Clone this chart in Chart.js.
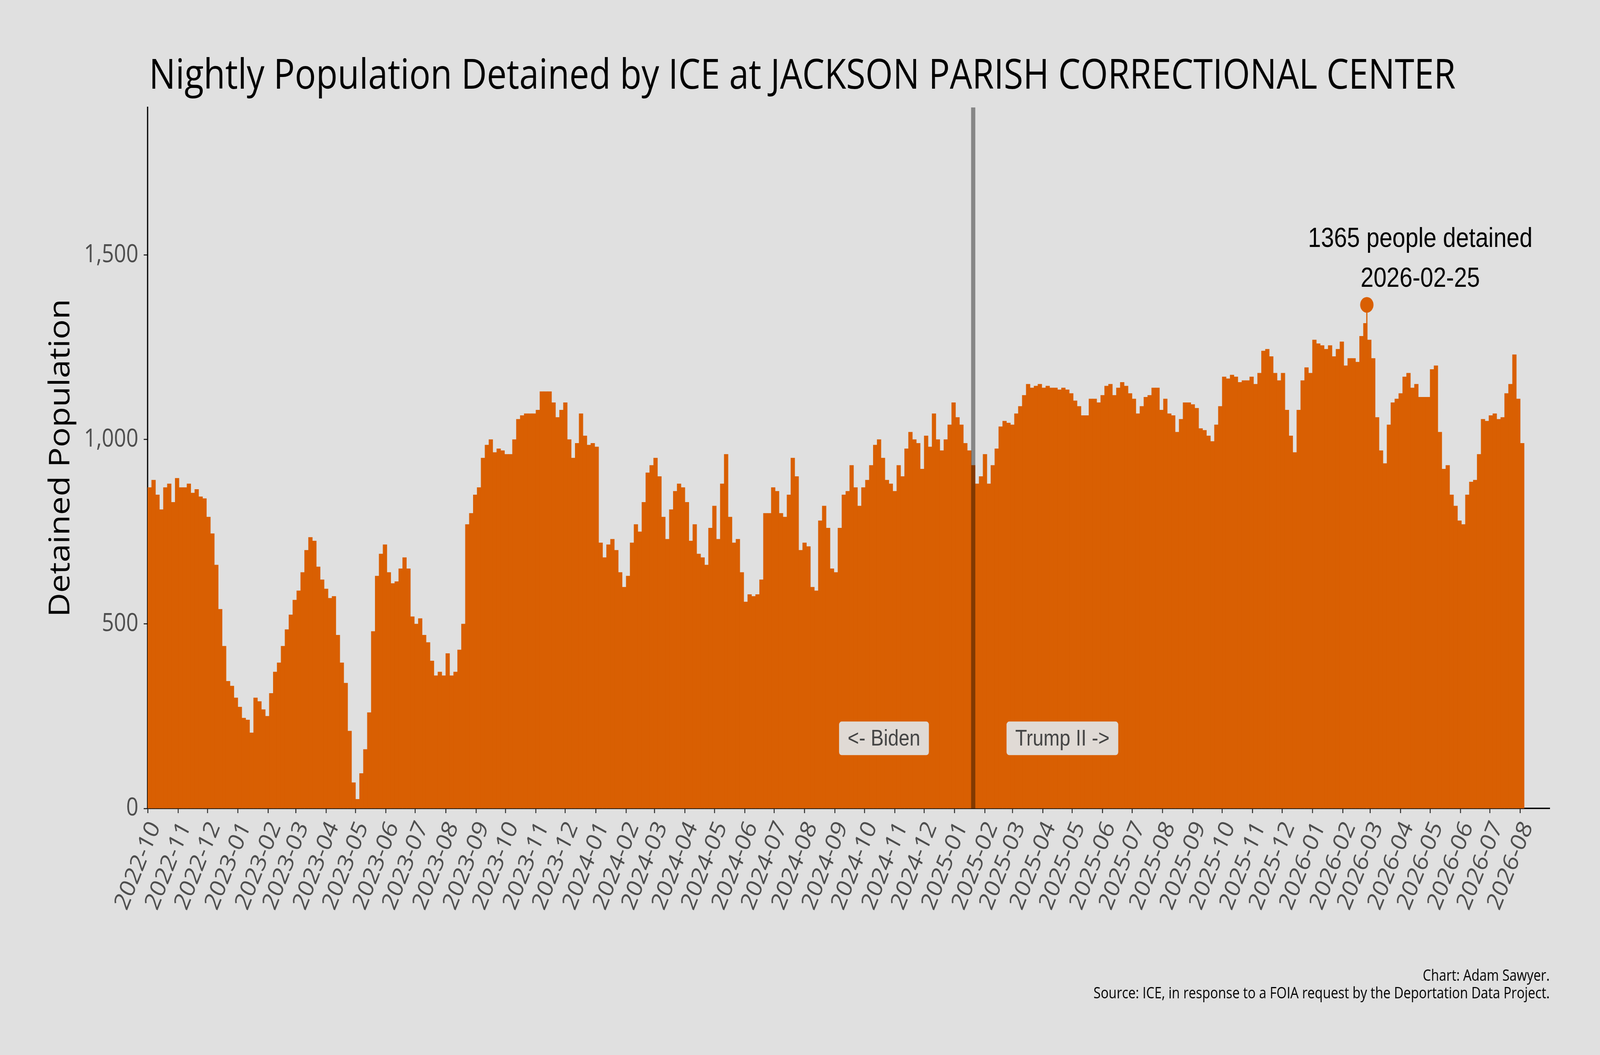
<!DOCTYPE html>
<html lang="en">
<head>
<meta charset="UTF-8">
<title>Nightly Population Detained by ICE at JACKSON PARISH CORRECTIONAL CENTER</title>
<style>
  html, body { margin: 0; padding: 0; background: #e0e0e0; overflow: hidden; }
  /* bitmap is 4800x2700; stretch it to whatever the window really is */
  canvas { display: block; width: 100vw !important; height: 100vh !important; }
</style>
</head>
<body>
<canvas id="chart" width="4800" height="2700"></canvas>
<script src="https://cdn.jsdelivr.net/npm/chart.js@4.4.1/dist/chart.umd.min.js"></script>
<script>
// nightly population, averaged into 4-day bins starting 2022-10-01
var popOct22 = [
  870, 890, 850, 810, 870, 880, 830, 895, 870, 870,
  880, 855, 865, 845, 840, 790, 745, 660, 540, 440,
  345, 332, 300, 275, 245, 240, 205, 300, 290, 268,
  250, 312, 370, 395, 440, 485, 525, 565, 590, 640,
  700, 735, 725, 655, 620, 595, 570, 575, 470, 395,
  340, 210, 70, 25, 95, 160, 260, 480, 630, 690,
  715, 640, 610, 615, 650, 680, 650, 520, 500, 515,
  470, 450, 400, 360, 370, 360, 420, 360, 370, 430,
  500, 770, 800, 850, 870, 950, 985, 1000, 965, 975,
  970
];
var popOct23 = [
  960, 960, 1000, 1055, 1065, 1070, 1070, 1070, 1080,
  1130, 1130, 1130, 1100, 1060, 1080, 1100, 1000, 950, 990,
  1070, 1010, 985, 990, 980, 720, 680, 715, 730, 700,
  640, 600, 630, 720, 770, 750, 830, 910, 930, 950,
  900, 790, 730, 810, 860, 880, 870, 830, 725, 770,
  690, 680, 660, 760, 820, 730, 880, 960, 790, 720,
  730, 640, 560, 580, 575, 580, 620, 800, 800, 870,
  860, 800, 790, 850, 950, 900, 700, 720, 710, 600,
  590, 780, 820, 760, 650, 640, 760, 850, 860, 930,
  870, 820, 870
];
var popOct24 = [
  890, 930, 985, 1000, 950, 890, 880, 860, 930, 900,
  975, 1020, 1000, 990, 920, 1010, 980, 1070, 1000, 970,
  1000, 1040, 1100, 1060, 1040, 990, 970, 930, 880, 900,
  960, 880, 930, 975, 1035, 1050, 1045, 1040, 1070, 1090,
  1120, 1150, 1140, 1145, 1150, 1140, 1145, 1140, 1140, 1135,
  1140, 1135, 1125, 1105, 1090, 1065, 1065, 1110, 1110, 1100,
  1120, 1145, 1150, 1120, 1140, 1155, 1145, 1125, 1110, 1070,
  1090, 1115, 1120, 1140, 1140, 1080, 1110, 1070, 1065, 1020,
  1055, 1100, 1100, 1095, 1085, 1030, 1025, 1010, 995, 1040,
  1090
];
var popOct25 = [
  1170, 1165, 1175, 1170, 1155, 1160, 1160, 1170, 1150, 1180,
  1240, 1245, 1225, 1180, 1160, 1180, 1080, 1010, 965, 1080,
  1160, 1195, 1180, 1270, 1260, 1255, 1245, 1255, 1225, 1245,
  1265, 1200, 1220, 1220, 1210, 1280, 1315, 1270, 1220, 1060,
  970, 935, 1040, 1100, 1110, 1125, 1170, 1180, 1140, 1150,
  1115, 1115, 1115, 1190, 1200, 1020, 920, 930, 850, 820,
  780, 770, 850, 885, 890, 960, 1055, 1050, 1065, 1070,
  1055, 1060, 1125, 1150, 1230, 1110, 990
];

var startDate = '2022-10-01';
var binDays = 4;
var monthTicks = [
  '2022-10', '2022-11', '2022-12',
  '2023-01', '2023-02', '2023-03', '2023-04', '2023-05', '2023-06',
  '2023-07', '2023-08', '2023-09', '2023-10', '2023-11', '2023-12',
  '2024-01', '2024-02', '2024-03', '2024-04', '2024-05', '2024-06',
  '2024-07', '2024-08', '2024-09', '2024-10', '2024-11', '2024-12',
  '2025-01', '2025-02', '2025-03', '2025-04', '2025-05', '2025-06',
  '2025-07', '2025-08', '2025-09', '2025-10', '2025-11', '2025-12',
  '2026-01', '2026-02', '2026-03', '2026-04', '2026-05', '2026-06',
  '2026-07', '2026-08'
];
var yTicks = [0, 500, 1000, 1500];

var peakDate = '2026-02-25';
var peakValue = 1365;
var inaugurationDate = '2025-01-20';

var ORANGE = '#d95f02';
var SANS = '"Open Sans", "Noto Sans", sans-serif';
var ARIAL = '"Liberation Sans", Arial, sans-serif';

function dayOf(s) {
  var p = s.split('-').map(Number);
  var b = startDate.split('-').map(Number);
  return (Date.UTC(p[0], p[1] - 1, p[2] || 1) - Date.UTC(b[0], b[1] - 1, b[2])) / 86400000;
}

var population = popOct22.concat(popOct23, popOct24, popOct25);
var bars = population.map(function(v, i) {
  return { x: i * binDays + binDays / 2, y: v };
});

// fit a string into a target width (the reference font is narrower than what we have)
function fitFont(ctx, text, width, family) {
  ctx.font = '100px ' + family;
  return 100 * width / ctx.measureText(text).width;
}

var overlay = {
  id: 'overlay',
  afterDatasetsDraw: function(chart) {
    var ctx = chart.ctx, a = chart.chartArea, x = chart.scales.x, y = chart.scales.y;
    ctx.save();

    // inauguration line
    var lx = x.getPixelForValue(dayOf(inaugurationDate));
    ctx.fillStyle = 'rgba(0,0,0,0.4)';
    ctx.fillRect(lx - 6.3, a.top, 12.6, a.bottom - a.top);

    // era labels
    ctx.font = '58px ' + ARIAL;
    ctx.textAlign = 'center';
    ctx.textBaseline = 'middle';
    [['<- Biden', -91], ['Trump II ->', 91]].forEach(function(l) {
      var cx = x.getPixelForValue(dayOf(inaugurationDate) + l[1]);
      var cy = y.getPixelForValue(190);
      var w = ctx.measureText(l[0]).width + 52;
      ctx.fillStyle = 'rgba(224,224,224,0.95)';
      ctx.beginPath();
      ctx.roundRect(cx - w / 2, cy - 43, w, 86, 8);
      ctx.fill();
      ctx.fillStyle = '#444';
      ctx.fillText(l[0], cx, cy + 2);
    });

    // peak annotation
    var px = x.getPixelForValue(dayOf(peakDate) + 55);
    var py = y.getPixelForValue(peakValue);
    ctx.fillStyle = '#000';
    ctx.font = '70px ' + ARIAL;
    ctx.textBaseline = 'alphabetic';
    ctx.fillText(peakValue + ' people detained', px, py - 148);
    ctx.fillText(peakDate, px, py - 46);
    ctx.restore();
  },
  afterDraw: function(chart) {
    var ctx = chart.ctx, a = chart.chartArea;
    ctx.save();
    ctx.fillStyle = '#000';

    var title = 'Nightly Population Detained by ICE at JACKSON PARISH CORRECTIONAL CENTER';
    ctx.font = fitFont(ctx, title, 3920, SANS) + 'px ' + SANS;
    ctx.textAlign = 'left';
    ctx.textBaseline = 'alphabetic';
    ctx.fillText(title, 447, 227);

    var yTitle = 'Detained Population';
    ctx.font = fitFont(ctx, yTitle, 814, SANS) + 'px ' + SANS;
    ctx.translate(208, (a.top + a.bottom) / 2);
    ctx.rotate(-Math.PI / 2);
    ctx.textAlign = 'center';
    ctx.fillText(yTitle, 0, 0);
    ctx.setTransform(1, 0, 0, 1, 0, 0);

    var src = 'Source: ICE, in response to a FOIA request by the Deportation Data Project.';
    ctx.font = fitFont(ctx, src, 1369, SANS) + 'px ' + SANS;
    ctx.textAlign = 'right';
    ctx.fillText('Chart: Adam Sawyer.', 4649, 2510);
    ctx.fillText(src, 4649, 2555);
    ctx.restore();
  }
};

var axisGrid = {
  display: true, drawOnChartArea: false, drawTicks: true, offset: false,
  tickLength: 12, tickWidth: 3, tickColor: '#333'
};
var axisBorder = { display: true, color: '#000', width: 3.5 };

new Chart(document.getElementById('chart'), {
  type: 'bar',
  data: {
    datasets: [{
      type: 'bar',
      data: bars,
      backgroundColor: ORANGE,
      borderWidth: 0,
      barThickness: 12,
      grouped: false,
      order: 3
    }, {
      // the single night of the peak, drawn as its own thin bar
      type: 'bar',
      data: [{ x: dayOf(peakDate) + 0.5, y: peakValue }],
      backgroundColor: ORANGE,
      borderWidth: 0,
      barThickness: 3,
      grouped: false,
      order: 2
    }, {
      type: 'scatter',
      data: [{ x: dayOf(peakDate) + 0.5, y: peakValue }],
      backgroundColor: ORANGE,
      borderWidth: 0,
      pointRadius: 20,
      order: 1
    }]
  },
  options: {
    responsive: false,
    animation: false,
    devicePixelRatio: 1,
    layout: { padding: { top: 275, right: 151, bottom: 0, left: 0 } },
    plugins: { legend: { display: false }, tooltip: { enabled: false } },
    scales: {
      x: {
        type: 'linear',
        offset: false,
        min: 0,
        max: 1430,
        afterBuildTicks: function(s) {
          s.ticks = monthTicks.map(function(m) { return { value: dayOf(m) }; });
        },
        afterFit: function(s) { s.height = 631; },
        grid: axisGrid,
        border: axisBorder,
        ticks: {
          autoSkip: false,
          minRotation: 65,
          maxRotation: 65,
          labelOffset: 22,
          padding: 10,
          color: '#4d4d4d',
          font: { family: SANS, size: 64 },
          callback: function(v, i) { return monthTicks[i]; }
        }
      },
      y: {
        min: 0,
        max: 1900,
        afterBuildTicks: function(s) {
          s.ticks = yTicks.map(function(v) { return { value: v }; });
        },
        afterFit: function(s) { s.width = 443; },
        grid: axisGrid,
        border: axisBorder,
        ticks: {
          padding: 16,
          color: '#4d4d4d',
          font: { family: SANS, size: 64 },
          callback: function(v) { return v.toLocaleString('en-US'); }
        }
      }
    }
  },
  plugins: [overlay]
});
</script>
</body>
</html>
